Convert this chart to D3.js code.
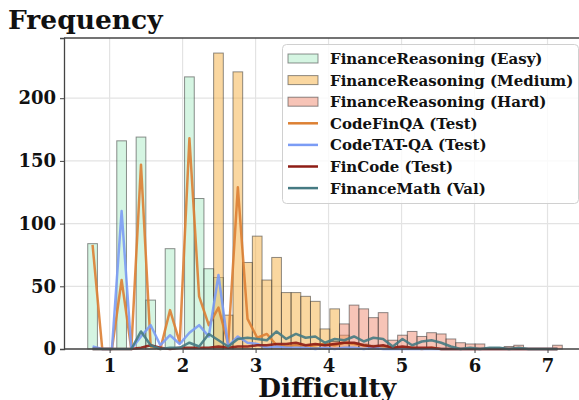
<!DOCTYPE html>
<html>
<head>
<meta charset="utf-8">
<script src="https://cdn.jsdelivr.net/npm/d3@7"></script>
<style>
  body { margin: 0; background: #fff; }
  text { font-family: "DejaVu Serif", serif; font-weight: bold; fill: #111; }
</style>
</head>
<body>
<svg id="chart" width="579" height="400"></svg>
<script>
// histogram bins shared by every series
const binStart = 0.70;
const binWidth = 0.1327;

const easy = [84,0,0,166,0,169,39,0,80,0,217,120,64,57,0,0,0,0,0,0,0,0,0,0,0,0,0,0,0,0,0,0,0,0,0,0,0,0,0,0,0,0,0,0,0,0,0,0,0];
const medium = [0,0,0,0,0,0,0,0,0,0,0,0,0,236,27,221,69,90,55,73,45,45,42,38,16,32,11,5,4,3,2,1,0,0,0,0,0,0,0,0,0,0,0,0,0,0,0,0,0];
const hard = [0,0,0,0,0,0,0,0,0,0,0,0,0,0,0,0,0,0,0,0,0,0,0,1,3,6,20,35,32,25,29,7,11,14,10,13,12,8,5,4,4,1,1,2,3,0,0,0,3];

const codeFinQA = [83,0,0,55,0,147,2,0,31,5,168,42,19,33,4,129,24,9,12,3,2,3,2,3,4,3,5,4,3,2,2,1,1,1,0,1,0,0,0,0,0,0,0,0,0,0,0,0,0];
const codeTatQA = [2,0,0,110,0,10,19,3,11,4,13,19,10,59,2,10,5,4,1,2,1,1,1,0,1,0,1,1,0,1,0,0,0,0,0,0,0,0,0,0,0,0,0,0,0,0,0,0,0];
const finCode = [0,0,0,0,0,1,3,1,0,1,1,1,1,2,1,2,2,3,3,4,4,5,3,4,3,4,5,5,3,2,3,1,2,1,1,1,0,0,0,0,0,0,0,0,0,0,0,0,0];
const financeMath = [0,0,0,0,0,14,3,0,1,1,5,2,12,7,2,8,9,8,7,14,8,12,9,10,5,8,7,10,6,9,8,2,8,3,6,7,5,2,0,1,0,1,1,0,1,0,0,0,0];

const xTicks = [1, 2, 3, 4, 5, 6, 7];
const yTicks = [0, 50, 100, 150, 200];

const barSeries = [
    { name: "FinanceReasoning (Easy)", values: easy, color: "#abebc6" },
    { name: "FinanceReasoning (Medium)", values: medium, color: "#f5b041" },
    { name: "FinanceReasoning (Hard)", values: hard, color: "#ef8a70" }
];
const lineSeries = [
    { name: "CodeFinQA (Test)", values: codeFinQA, color: "#dd8033" },
    { name: "CodeTAT-QA (Test)", values: codeTatQA, color: "#7b9cf5" },
    { name: "FinCode (Test)", values: finCode, color: "#8e1c14" },
    { name: "FinanceMath (Val)", values: financeMath, color: "#457a82" }
];

const svg = d3.select("#chart");
const margin = { left: 64, top: 38, bottom: 349 };
const nBins = easy.length;
const binEnd = binStart + nBins * binWidth;
const pad = (binEnd - binStart) * 0.05;

const x = d3.scaleLinear().domain([binStart - pad, binEnd + pad]).range([margin.left, 586]);
const y = d3.scaleLinear().domain([0, 248]).range([margin.bottom, margin.top]);

// grid
const grid = svg.append("g");
xTicks.forEach(t => {
    grid.append("line").attr("x1", x(t)).attr("x2", x(t))
        .attr("y1", margin.top).attr("y2", margin.bottom)
        .attr("stroke", "#e3e3e3").attr("stroke-width", 1.2);
});
yTicks.forEach(t => {
    grid.append("line").attr("x1", margin.left).attr("x2", 579)
        .attr("y1", y(t)).attr("y2", y(t))
        .attr("stroke", "#e3e3e3").attr("stroke-width", 1.2);
});

// bars
barSeries.forEach(s => {
    svg.append("g").selectAll("rect")
        .data(s.values.map((v, i) => ({ v, i })).filter(d => d.v > 0))
        .join("rect")
        .attr("x", d => x(binStart + d.i * binWidth))
        .attr("width", d => x(binStart + (d.i + 1) * binWidth) - x(binStart + d.i * binWidth))
        .attr("y", d => y(d.v))
        .attr("height", d => y(0) - y(d.v))
        .attr("fill", s.color).attr("fill-opacity", 0.5)
        .attr("stroke", "#333").attr("stroke-opacity", 0.55).attr("stroke-width", 1);
});

// lines at bin centres
const line = d3.line()
    .x((d, i) => x(binStart + (i + 0.5) * binWidth))
    .y(d => y(d));
lineSeries.forEach(s => {
    svg.append("path").datum(s.values)
        .attr("d", line)
        .attr("fill", "none")
        .attr("stroke", s.color).attr("stroke-width", 2.5)
        .attr("stroke-opacity", 0.9)
        .attr("stroke-linejoin", "round");
});

// spines
svg.append("line").attr("x1", margin.left).attr("x2", 579).attr("y1", margin.top).attr("y2", margin.top)
    .attr("stroke", "#444").attr("stroke-width", 1.3);

const xAxis = svg.append("g").attr("transform", `translate(0,${margin.bottom})`)
    .call(d3.axisBottom(x).tickValues(xTicks).tickSize(4).tickPadding(6).tickFormat(d3.format("d")));
const yAxis = svg.append("g").attr("transform", `translate(${margin.left},0)`)
    .call(d3.axisLeft(y).tickValues(yTicks).tickSize(4).tickPadding(4));
[xAxis, yAxis].forEach(a => {
    a.select(".domain").attr("stroke", "#444").attr("stroke-width", 1.3);
    a.selectAll(".tick line").attr("stroke", "#444");
    a.selectAll("text").attr("font-size", 18).attr("font-family", "DejaVu Serif").attr("font-weight", "bold").attr("fill", "#111");
});
xAxis.select(".domain").attr("d", `M${margin.left},0H579`);

// titles
svg.append("text").attr("x", 8).attr("y", 29).attr("font-size", 26.5).text("Frequency");
svg.append("text").attr("x", x(3.98)).attr("y", 397).attr("text-anchor", "middle")
    .attr("font-size", 26.5).text("Difficulty");

// legend
const lg = svg.append("g");
lg.append("rect").attr("x", 282.5).attr("y", 44.5).attr("width", 296).attr("height", 159)
    .attr("rx", 4).attr("fill", "#fff").attr("fill-opacity", 0.8)
    .attr("stroke", "#d0d0d0");
const rowY = i => 58.5 + i * 21.6;
barSeries.forEach((s, i) => {
    lg.append("rect").attr("x", 288).attr("y", rowY(i) - 4.5).attr("width", 30).attr("height", 9)
        .attr("fill", s.color).attr("fill-opacity", 0.5)
        .attr("stroke", "#333").attr("stroke-opacity", 0.55);
    lg.append("text").attr("x", 330).attr("y", rowY(i)).attr("dy", "0.36em")
        .attr("font-size", 15).text(s.name);
});
lineSeries.forEach((s, j) => {
    const i = j + 3;
    lg.append("line").attr("x1", 288).attr("x2", 318).attr("y1", rowY(i)).attr("y2", rowY(i))
        .attr("stroke", s.color).attr("stroke-width", 2.5);
    lg.append("text").attr("x", 330).attr("y", rowY(i)).attr("dy", "0.36em")
        .attr("font-size", 15).text(s.name);
});
</script>
</body>
</html>
